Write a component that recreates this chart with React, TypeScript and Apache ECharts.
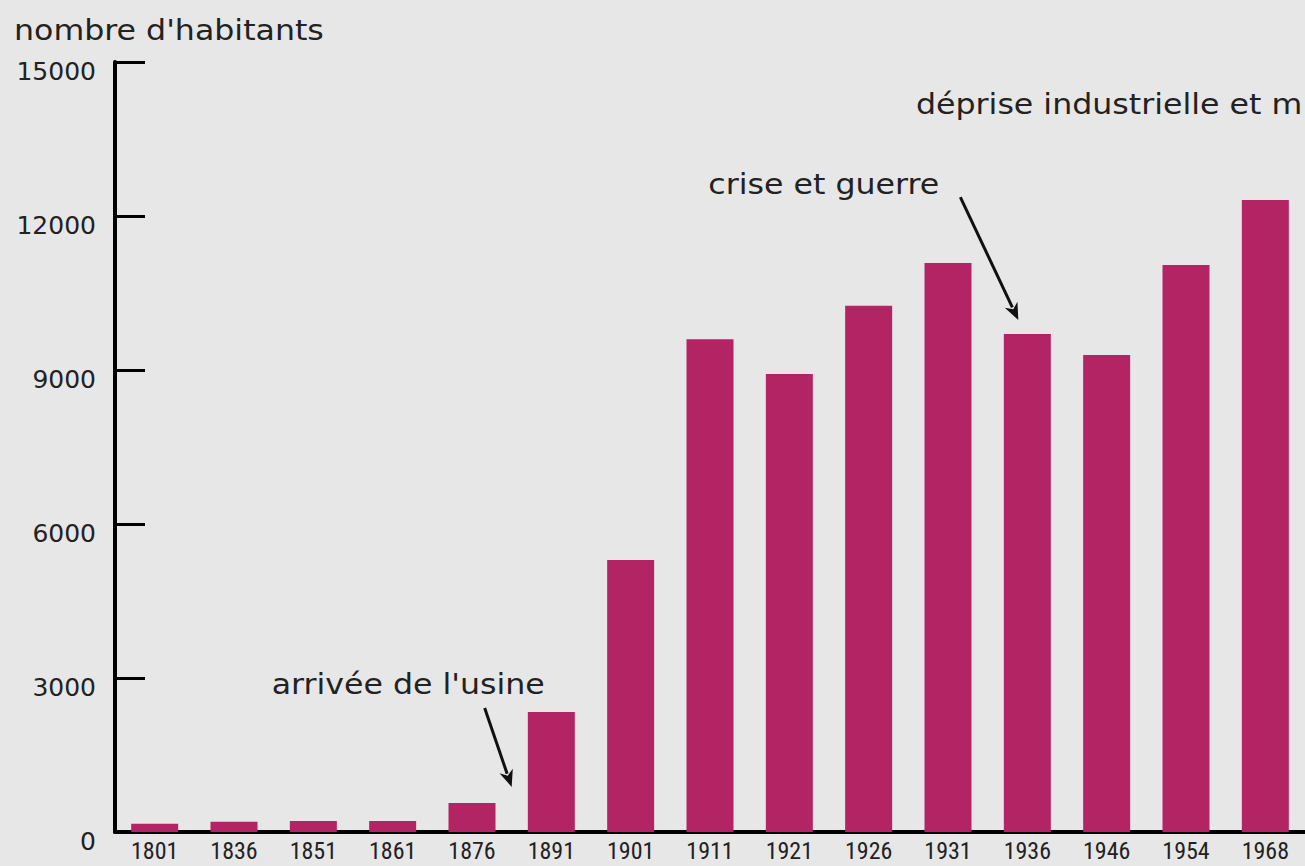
import React, { useEffect, useRef } from "react";
import * as echarts from "echarts";

const years = ["1801", "1836", "1851", "1861", "1876", "1891", "1901", "1911", "1921", "1926", "1931", "1936", "1946", "1954", "1968"];
const habitants = [160, 200, 215, 215, 565, 2340, 5300, 9600, 8920, 10250, 11085, 9700, 9290, 11045, 12310];
const yTicks = [0, 3000, 6000, 9000, 12000, 15000];
const yTitle = "nombre d'habitants";
const noteUsine = "arrivée de l'usine";
const noteCrise = "crise et guerre";
const noteDeprise = "déprise industrielle et m";

const BG = "#e7e7e7";
const BAR = "#b22463";
const FONT = "'DejaVu Sans', sans-serif";
const TXT = "#222";

function arrow(from: number[], to: number[]) {
  const dx = to[0] - from[0];
  const dy = to[1] - from[1];
  const len = Math.sqrt(dx * dx + dy * dy);
  const ux = dx / len;
  const uy = dy / len;
  const headL = 17;
  const headW = 7;
  const bx = to[0] - ux * headL;
  const by = to[1] - uy * headL;
  return [
    {
      type: "line",
      shape: { x1: from[0], y1: from[1], x2: bx + ux * 3, y2: by + uy * 3 },
      style: { stroke: "#111", lineWidth: 3 },
    },
    {
      type: "polygon",
      shape: {
        points: [
          [to[0], to[1]],
          [bx - uy * headW, by + ux * headW],
          [bx + ux * 5, by + uy * 5],
          [bx + uy * headW, by - ux * headW],
        ],
      },
      style: { fill: "#111" },
    },
  ];
}

function label(text: string, x: number, y: number) {
  return {
    type: "text",
    x,
    y,
    scaleX: 1.13,
    style: { text, font: `28px ${FONT}`, fill: TXT, verticalAlign: "middle" },
  };
}

export default function App() {
  const ref = useRef<HTMLDivElement>(null);
  useEffect(() => {
    const chart = echarts.init(ref.current!, null, { renderer: "svg" });
    chart.setOption({
      animation: false,
      backgroundColor: BG,
      grid: { left: 115, right: -5, top: 62, bottom: 34, containLabel: false },
      xAxis: {
        type: "category",
        data: years,
        boundaryGap: true,
        axisLine: { lineStyle: { color: "#000", width: 4 } },
        axisTick: { inside: true, length: 18, lineStyle: { color: "#000", width: 3 } },
        axisLabel: {
          color: TXT,
          fontFamily: "'Roboto Condensed', 'Liberation Sans Narrow', 'DejaVu Sans Condensed', sans-serif",
          fontSize: 24,
          margin: 7,
          interval: 0,
        },
      },
      yAxis: {
        type: "value",
        min: yTicks[0],
        max: yTicks[yTicks.length - 1],
        interval: yTicks[1] - yTicks[0],
        splitLine: { show: false },
        axisLine: { show: true, lineStyle: { color: "#000", width: 4 } },
        axisTick: { show: true, inside: true, length: 30, lineStyle: { color: "#000", width: 3 } },
        axisLabel: {
          color: TXT,
          fontFamily: FONT,
          fontSize: 25,
          margin: 19,
          verticalAlign: "top",
          lineHeight: 18,
          formatter: (v: number) => String(v),
        },
      },
      series: [
        {
          type: "bar",
          data: habitants,
          barWidth: 47,
          itemStyle: { color: BAR },
        },
      ],
    });

    // anchor annotations to the chart's own scales
    const iU = years.indexOf("1891");
    const pA = chart.convertToPixel({ gridIndex: 0 }, [iU - 1, 0]) as number[];
    const pB = chart.convertToPixel({ gridIndex: 0 }, [iU, 0]) as number[];
    const tipU = [(pA[0] + pB[0]) / 2, pA[1] - 45];

    const iC = years.indexOf("1936");
    const pC = chart.convertToPixel({ gridIndex: 0 }, [iC, habitants[iC]]) as number[];
    const tipC = [pC[0] - 9, pC[1] - 14];

    const graphics: any[] = [
      label(yTitle, 14, 30),
      label(noteUsine, tipU[0] - 240, tipU[1] - 103),
      ...arrow([tipU[0] - 27, tipU[1] - 79], tipU),
      label(noteCrise, tipC[0] - 310, tipC[1] - 136),
      ...arrow([tipC[0] - 58, tipC[1] - 123], tipC),
      label(noteDeprise, 916, 104),
    ];
    chart.setOption({ graphic: graphics });
    return () => chart.dispose();
  }, []);
  return (
    <div style={{ position: "fixed", left: 0, top: 0, width: 1305, height: 866, overflow: "hidden", background: BG }}>
      <div ref={ref} style={{ width: 1305, height: 866 }} />
    </div>
  );
}
